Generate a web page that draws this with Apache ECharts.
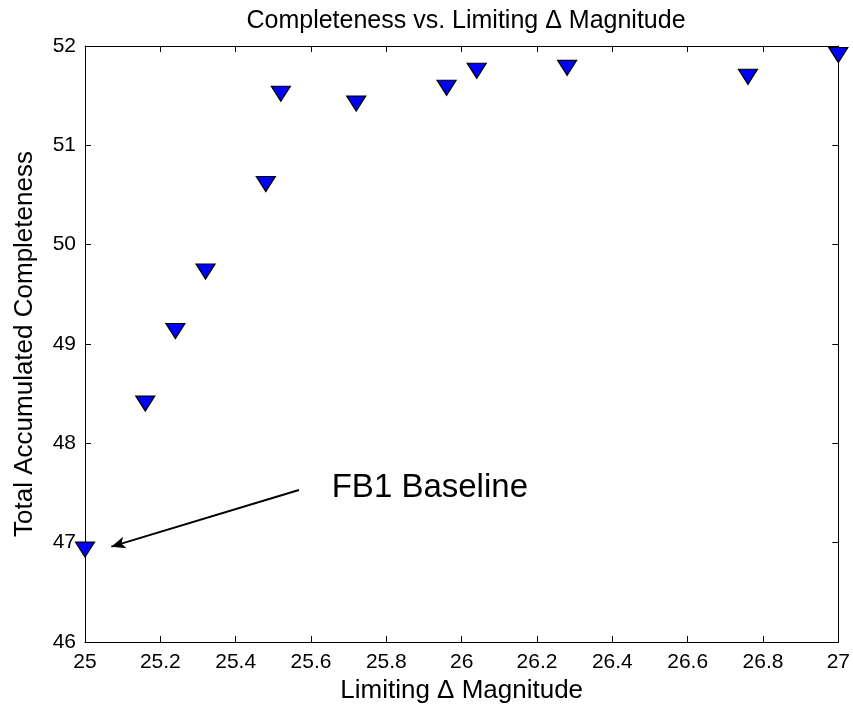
<!DOCTYPE html>
<html>
<head>
<meta charset="utf-8">
<script src="https://cdn.jsdelivr.net/npm/echarts@6/dist/echarts.min.js"></script>
<style>html,body{margin:0;padding:0;background:#fff}#c{width:853px;height:713px}</style>
</head>
<body>
<div id="c"></div>
<script>
var magnitudes = [25.00, 25.16, 25.24, 25.32, 25.48, 25.52, 25.72, 25.96, 26.04, 26.28, 26.76, 27.00];
var completeness = [46.93, 48.40, 49.13, 49.73, 50.61, 51.52, 51.42, 51.58, 51.75, 51.78, 51.69, 51.91];
var arrowStart = [25.568, 47.53];
var arrowEnd = [25.07, 46.96];
var annotationPos = [25.655, 47.55];
var annotationText = 'FB1 Baseline';
var titleText = 'Completeness vs. Limiting \u0394 Magnitude';
var xName = 'Limiting \u0394 Magnitude';
var yName = 'Total Accumulated Completeness';

var FONT = 'Liberation Sans';
var points = magnitudes.map(function (m, i) { return [m, completeness[i]]; });

var chart = echarts.init(document.getElementById('c'), null, {renderer: 'canvas'});
var axisCommon = {
  axisLine: {show: true, onZero: false, lineStyle: {color: '#000', width: 1}},
  axisTick: {show: true, inside: true, length: 6, lineStyle: {color: '#000', width: 1}},
  splitLine: {show: false}
};
chart.setOption({
  animation: false,
  backgroundColor: '#fff',
  title: {
    text: titleText, left: 461, top: 4, textAlign: 'center',
    textStyle: {fontFamily: FONT, fontSize: 25, fontWeight: 'normal', color: '#000'}
  },
  grid: {left: 85, right: 11, top: 46, bottom: 71, containLabel: false},
  xAxis: [
    Object.assign({
      type: 'value', min: 25, max: 27, interval: 0.2, position: 'bottom',
      name: xName, nameLocation: 'middle', nameGap: 35,
      nameTextStyle: {fontFamily: FONT, fontSize: 26, color: '#000'},
      axisLabel: {fontFamily: FONT, fontSize: 21, color: '#000', margin: 10}
    }, axisCommon),
    Object.assign({
      type: 'value', min: 25, max: 27, interval: 0.2, position: 'top',
      axisLabel: {show: false}
    }, axisCommon)
  ],
  yAxis: [
    Object.assign({
      type: 'value', min: 46, max: 52, interval: 1, position: 'left',
      name: yName, nameLocation: 'middle', nameGap: 47, nameRotate: 90,
      nameTextStyle: {fontFamily: FONT, fontSize: 26, color: '#000'},
      axisLabel: {fontFamily: FONT, fontSize: 21, color: '#000', margin: 9}
    }, axisCommon),
    Object.assign({
      type: 'value', min: 46, max: 52, interval: 1, position: 'right',
      axisLabel: {show: false}
    }, axisCommon)
  ],
  series: [{
    type: 'scatter',
    data: points,
    symbol: 'triangle',
    symbolRotate: 180,
    symbolSize: [19, 15],
    itemStyle: {color: '#0000ff', opacity: 1, borderColor: '#000', borderWidth: 1.2},
    markLine: {
      silent: true,
      symbol: ['none', 'arrow'],
      symbolSize: [9, 14],
      lineStyle: {color: '#000', width: 2, type: 'solid'},
      label: {show: false},
      data: [[{coord: arrowStart}, {coord: arrowEnd}]]
    },
    markPoint: {
      silent: true,
      symbol: 'circle', symbolSize: 0,
      label: {
        show: true, position: 'right', distance: 0, formatter: annotationText,
        fontFamily: FONT, fontSize: 33, color: '#000'
      },
      data: [{coord: annotationPos}]
    }
  }]
});
</script>
</body>
</html>
